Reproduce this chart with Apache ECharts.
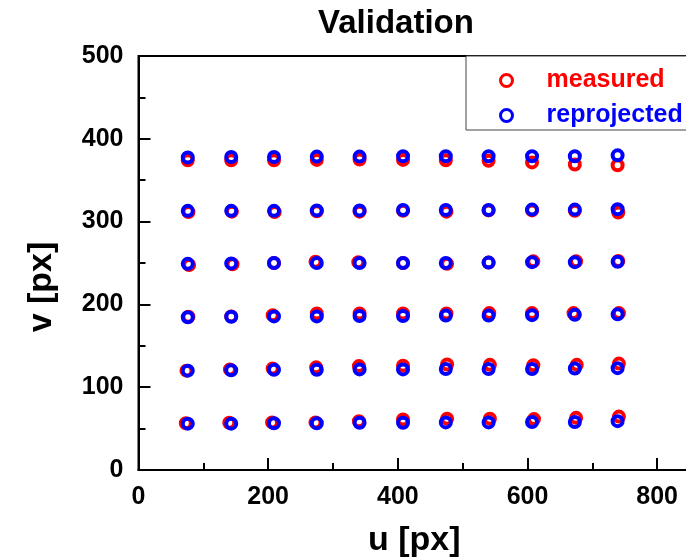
<!DOCTYPE html>
<html>
<head>
<meta charset="utf-8">
<title>Validation</title>
<script src="https://cdn.jsdelivr.net/npm/echarts@6/dist/echarts.min.js"></script>
<style>
  html, body { margin: 0; padding: 0; background: #fff; }
  #chart { width: 686px; height: 560px; }
</style>
</head>
<body>
<div id="chart"></div>
<script>
// reprojected points: one u per column, v per row
const reprojU = [76, 143, 209, 275, 341, 408, 474, 540, 607, 673, 739];
const reprojV = [
  [377.5, 378, 378, 378.5, 378.5, 379, 379, 379, 379, 379, 380],
  [313, 313, 313, 313.5, 313.5, 314, 314, 314, 314.5, 314.5, 315],
  [249, 249.5, 250, 250, 250, 250, 250, 250.5, 251, 251, 251.5],
  [184.5, 185, 185.5, 185.5, 186, 186, 186.5, 186.5, 187, 187.5, 188],
  [120, 120.5, 121, 121, 121.5, 121.5, 122, 122, 122, 122.5, 123],
  [56, 56, 56.5, 56.5, 57, 57, 57.5, 57.5, 58, 58, 59]
];

// measured points
const measuredU = [
  [76, 143, 209, 275, 341, 408, 474, 540, 607, 673, 739],
  [77, 144, 210, 275, 341, 408, 475, 540, 607, 673, 740],
  [78, 145, 209, 273, 339, 408, 476, 540, 609, 675, 740],
  [77, 143, 207, 275, 341, 408, 475, 541, 607, 671, 741],
  [74, 141, 207, 274, 340, 408, 476, 542, 609, 676, 741],
  [73, 140, 206, 273, 340, 408, 476, 542, 610, 675, 741]
];
const measuredV = [
  [374, 374, 374, 374.5, 375, 374.5, 374, 373.5, 371.5, 369, 368],
  [311.5, 312, 311.5, 312.5, 312, 313, 312, 313.5, 313.5, 313, 311],
  [247.5, 248.5, 250, 251.5, 251, 250, 249, 250.5, 252, 252, 252.5],
  [185, 185.5, 187, 189, 189, 189, 189, 189.5, 189.5, 189.5, 189.5],
  [120, 121.5, 122.5, 124, 125.5, 126, 127.5, 127, 126.5, 127, 128.5],
  [56.5, 57, 57.5, 57.5, 59, 61, 62, 62, 61.5, 63, 64.5]
];

const xTicks = [0, 200, 400, 600, 800];
const yTicks = [0, 100, 200, 300, 400, 500];

const font = 'Arial, "Liberation Sans", sans-serif';

let measuredData = [];
let reprojData = [];
for (let r = 0; r < measuredV.length; r++) {
  for (let c = 0; c < reprojU.length; c++) {
    measuredData.push([measuredU[r][c], measuredV[r][c]]);
    reprojData.push([reprojU[c], reprojV[r][c]]);
  }
}

const chart = echarts.init(document.getElementById('chart'));

const axisCommon = {
  axisLine: { lineStyle: { color: '#000', width: 2 } },
  axisTick: { inside: true, length: 12, lineStyle: { color: '#000', width: 2 } },
  minorTick: { show: true, splitNumber: 2, length: 7, lineStyle: { color: '#000', width: 2 } },
  splitLine: { show: false },
  axisLabel: { color: '#000', fontSize: 25, fontWeight: 'bold', fontFamily: font },
  nameTextStyle: { color: '#000', fontSize: 34, fontWeight: 'bold', fontFamily: font }
};

chart.setOption({
  animation: false,
  backgroundColor: '#fff',
  title: {
    text: 'Validation',
    left: 313,
    top: 2,
    textStyle: { color: '#000', fontSize: 33, fontWeight: 'bold', fontFamily: font }
  },
  grid: {
    left: 138.5,
    top: 56,
    bottom: 90,
    right: -36,
    outerBoundsMode: 'none',
    show: true,
    borderColor: '#000',
    borderWidth: 2
  },
  legend: {
    orient: 'vertical',
    left: 466,
    top: 56,
    padding: [12, 30, 2, 33],
    itemGap: 10,
    itemWidth: 12,
    itemHeight: 12,
    backgroundColor: '#fff',
    borderColor: '#444',
    borderWidth: 1,
    borderRadius: 0,
    itemStyle: { borderWidth: 3 },
    textStyle: { fontSize: 25, fontWeight: 'bold', fontFamily: font, padding: [0, 0, 0, 29] },
    data: [
      { name: 'measured', textStyle: { color: '#ff0000' } },
      { name: 'reprojected', textStyle: { color: '#0000ff' } }
    ]
  },
  xAxis: Object.assign({}, axisCommon, {
    type: 'value',
    min: 0,
    max: 900,
    interval: 200,
    name: 'u [px]',
    nameLocation: 'middle',
    nameGap: 54,
    nameTextStyle: Object.assign({}, axisCommon.nameTextStyle, { padding: [0, 32, 0, 0] }),
    axisLabel: Object.assign({}, axisCommon.axisLabel, {
      margin: 15,
      formatter: v => (xTicks.indexOf(v) >= 0 ? String(v) : '')
    })
  }),
  yAxis: Object.assign({}, axisCommon, {
    type: 'value',
    min: 0,
    max: 500,
    interval: 100,
    name: 'v [px]',
    nameLocation: 'middle',
    nameGap: 80,
    nameTextStyle: Object.assign({}, axisCommon.nameTextStyle, { padding: [0, 48, 0, 0] }),
    axisLabel: Object.assign({}, axisCommon.axisLabel, {
      margin: 15,
      formatter: v => (yTicks.indexOf(v) >= 0 ? String(v) : '')
    })
  }),
  series: [
    {
      name: 'measured',
      type: 'scatter',
      symbol: 'circle',
      symbolSize: 10,
      itemStyle: { color: 'rgba(0,0,0,0)', borderColor: '#ff0000', borderWidth: 4, opacity: 1 },
      data: measuredData
    },
    {
      name: 'reprojected',
      type: 'scatter',
      symbol: 'circle',
      symbolSize: 10,
      itemStyle: { color: 'rgba(0,0,0,0)', borderColor: '#0000ff', borderWidth: 4, opacity: 1 },
      data: reprojData
    }
  ]
});
</script>
</body>
</html>
